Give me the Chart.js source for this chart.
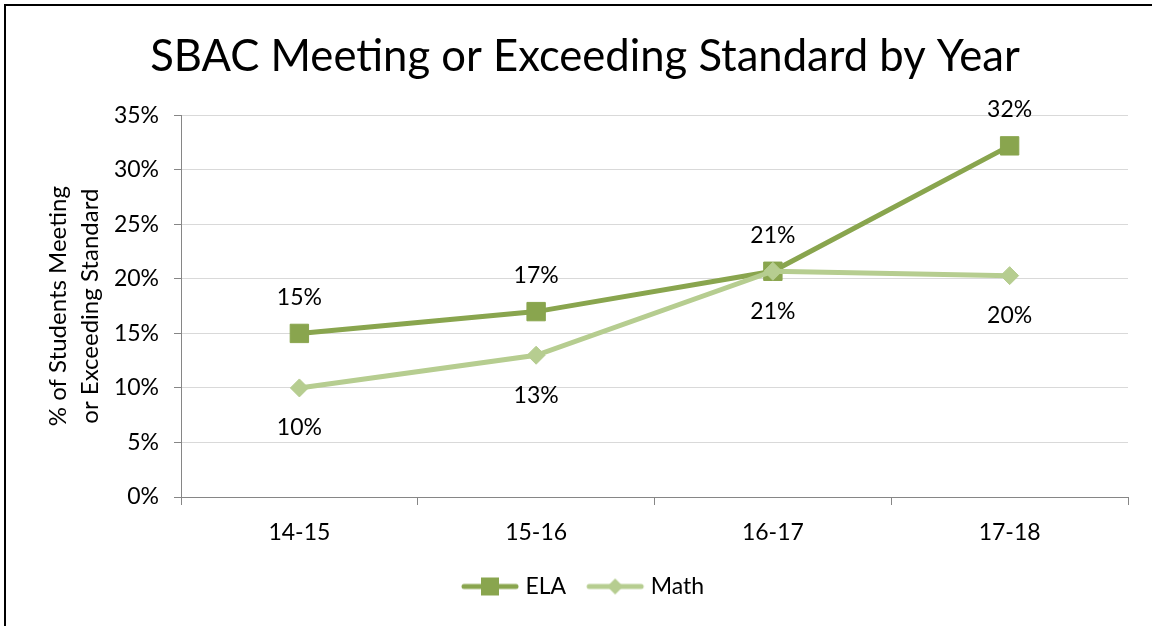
<!DOCTYPE html>
<html>
<head>
<meta charset="utf-8">
<script src="https://cdn.jsdelivr.net/npm/chart.js@4/dist/chart.umd.min.js"></script>
<style>
  html, body { margin: 0; padding: 0; background: #ffffff; }
  #wrap { width: 1152px; height: 626px; position: relative; }
</style>
</head>
<body>
<div id="wrap"><canvas id="c" width="1152" height="626"></canvas></div>
<script>
const categories = ['14-15', '15-16', '16-17', '17-18'];
const elaValues = [15.0, 17.0, 20.7, 32.2];
const mathValues = [10.0, 13.0, 20.7, 20.3];
const elaLabels = ['15%', '17%', '21%', '32%'];
const mathLabels = ['10%', '13%', '21%', '20%'];
const yTicks = [0, 5, 10, 15, 20, 25, 30, 35];

const ELA_COLOR = '#89A54E';
const MATH_COLOR = '#B6CD90';
const FONT = 'Lato, "Open Sans", sans-serif';

function legendIcon(color, style, r) {
  const cv = document.createElement('canvas');
  cv.width = 60; cv.height = 24;
  const g = cv.getContext('2d');
  g.strokeStyle = color; g.lineWidth = 5; g.lineCap = 'round';
  g.beginPath(); g.moveTo(4, 12); g.lineTo(56, 12); g.stroke();
  g.fillStyle = color;
  if (style === 'rect') {
    g.fillRect(30 - r, 12 - r, 2 * r, 2 * r);
  } else {
    g.beginPath();
    g.moveTo(30, 12 - r); g.lineTo(30 + r, 12); g.lineTo(30, 12 + r); g.lineTo(30 - r, 12);
    g.closePath(); g.fill();
  }
  return cv;
}

const dataLabelPlugin = {
  id: 'dataLabels',
  afterDatasetsDraw(chart) {
    const ctx = chart.ctx;
    ctx.save();
    ctx.font = '23px ' + FONT;
    ctx.fillStyle = '#000000';
    ctx.textAlign = 'center';
    ctx.textBaseline = 'middle';
    chart.data.datasets.forEach((ds, i) => {
      const meta = chart.getDatasetMeta(i);
      meta.data.forEach((pt, j) => {
        ctx.fillText(ds.valueLabels[j], pt.x, pt.y + ds.labelOffset);
      });
    });
    ctx.restore();
  }
};

const framePlugin = {
  id: 'frame',
  beforeDraw(chart) {
    const ctx = chart.ctx;
    ctx.save();
    ctx.fillStyle = '#ffffff';
    ctx.fillRect(0, 0, chart.width, chart.height);
    ctx.restore();
  },
  afterDraw(chart) {
    const ctx = chart.ctx;
    ctx.save();
    ctx.strokeStyle = '#000000';
    ctx.lineWidth = 2;
    ctx.strokeRect(5, 5, chart.width + 20, chart.height + 20);
    ctx.restore();
  }
};

new Chart(document.getElementById('c'), {
  type: 'line',
  data: {
    labels: categories,
    datasets: [
      {
        label: 'ELA',
        data: elaValues,
        valueLabels: elaLabels,
        labelOffset: -36,
        borderColor: ELA_COLOR,
        backgroundColor: ELA_COLOR,
        borderWidth: 5,
        pointStyle: 'rect',
        pointRadius: 13,
        pointHoverRadius: 13,
        pointBorderWidth: 1,
        pointBorderColor: ELA_COLOR,
        pointBackgroundColor: ELA_COLOR,
        tension: 0,
        order: 1
      },
      {
        label: 'Math',
        data: mathValues,
        valueLabels: mathLabels,
        labelOffset: 40,
        borderColor: MATH_COLOR,
        backgroundColor: MATH_COLOR,
        borderWidth: 5,
        pointStyle: 'rectRot',
        pointRadius: 9,
        pointHoverRadius: 9,
        pointBorderWidth: 1,
        pointBorderColor: MATH_COLOR,
        pointBackgroundColor: MATH_COLOR,
        tension: 0,
        order: 0
      }
    ]
  },
  options: {
    responsive: false,
    animation: false,
    events: [],
    layout: { padding: { left: 42, right: 24, top: 0, bottom: 18 } },
    plugins: {
      title: {
        display: true,
        text: 'SBAC Meeting or Exceeding Standard by Year',
        color: '#000000',
        font: { family: FONT, size: 43.6, weight: 'normal', lineHeight: 1.2 },
        padding: { top: 31, bottom: 32 }
      },
      legend: {
        display: true,
        position: 'bottom',
        labels: {
          color: '#000000',
          font: { family: FONT, size: 23 },
          usePointStyle: true,
          pointStyleWidth: 48,
          padding: 25,
          sort: (a, b) => a.datasetIndex - b.datasetIndex,
          generateLabels(chart) {
            return chart.data.datasets.map((ds, i) => ({
              text: ds.label,
              fillStyle: ds.borderColor,
              strokeStyle: ds.borderColor,
              fontColor: '#000000',
              lineWidth: 0,
              hidden: false,
              datasetIndex: i,
              pointStyle: legendIcon(ds.borderColor, ds.pointStyle === 'rect' ? 'rect' : 'diamond', ds.pointStyle === 'rect' ? 9 : 8)
            }));
          }
        }
      },
      tooltip: { enabled: false }
    },
    scales: {
      x: {
        offset: true,
        grid: {
          offset: true,
          drawOnChartArea: false,
          drawTicks: true,
          tickLength: 8,
          color: '#868686',
          lineWidth: 1
        },
        border: { display: true, color: '#868686', width: 1 },
        ticks: { color: '#000000', font: { family: FONT, size: 23 }, padding: 14 },
        afterFit(scale) { scale.height = 53; }
      },
      y: {
        min: 0,
        max: 35,
        afterBuildTicks(scale) { scale.ticks = yTicks.map(v => ({ value: v })); },
        grid: {
          color: '#D9D9D9',
          lineWidth: 1,
          drawTicks: true,
          tickLength: 7,
          tickColor: '#868686'
        },
        border: { display: true, color: '#868686', width: 1 },
        ticks: {
          color: '#000000',
          font: { family: FONT, size: 23 },
          padding: 15,
          callback: v => v + '%'
        },
        title: {
          display: true,
          text: ['% of Students Meeting', 'or Exceeding Standard'],
          color: '#000000',
          font: { family: FONT, size: 24, lineHeight: 1.35 },
          padding: { top: 0, bottom: 0 }
        },
        afterFit(scale) { scale.width = 139; }
      }
    }
  },
  plugins: [framePlugin, dataLabelPlugin]
});
</script>
</body>
</html>
